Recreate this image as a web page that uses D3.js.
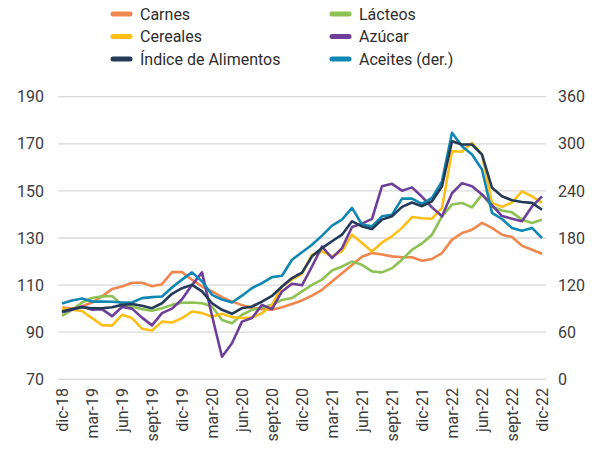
<!DOCTYPE html>
<meta charset="utf-8">
<style>
  body { margin: 0; background: #fff; }
  text { font-family: Roboto, "DejaVu Sans", sans-serif; fill: #3c3c3c; }
  .grid line { stroke: #d9d9d9; stroke-width: 1.3; }
  .axis text { font-size: 16px; }
  .legend text { font-size: 16px; fill: #2e2e2e; }
  .serie { fill: none; stroke-width: 2.6; stroke-linejoin: round; }
</style>
<svg width="594" height="452"></svg>
<script src="https://d3js.org/d3.v7.min.js"></script>
<script>

// categorias (meses)
var months = ['dic-18','ene-19','feb-19','mar-19','abr-19','may-19','jun-19','jul-19','ago-19','sept-19','oct-19','nov-19',
  'dic-19','ene-20','feb-20','mar-20','abr-20','may-20','jun-20','jul-20','ago-20','sept-20','oct-20','nov-20',
  'dic-20','ene-21','feb-21','mar-21','abr-21','may-21','jun-21','jul-21','ago-21','sept-21','oct-21','nov-21',
  'dic-21','ene-22','feb-22','mar-22','abr-22','may-22','jun-22','jul-22','ago-22','sept-22','oct-22','nov-22','dic-22'];

var tickMonths = ['dic-18','mar-19','jun-19','sept-19','dic-19','mar-20','jun-20','sept-20','dic-20',
  'mar-21','jun-21','sept-21','dic-21','mar-22','jun-22','sept-22','dic-22'];

var leftTicks = [70, 90, 110, 130, 150, 170, 190];
var rightTicks = [0, 60, 120, 180, 240, 300, 360];

// series (eje izq.)
var carnes = [100.5,100,101,102.6,105.2,108.3,109.4,111,111,109.5,110.4,115.5,115.5,112.3,109.4,107.3,104.9,103,101.5,100.2,
  99.8,99.5,100.6,102,103.5,105.5,108,111.5,115,118.5,122,123.6,123,122.2,121.8,121.8,120.3,121.1,123.6,129.3,
  132.1,133.5,136.4,134.3,131.4,130.4,126.7,125,123.3];
var lacteos = [96.9,99.5,102.6,104.5,105.2,105.4,101.6,100.9,99.8,99.1,100.2,101.6,102.5,102.6,102.3,100.9,95.2,93.8,97.4,99.5,
  100.5,101.6,103.7,104.5,107.3,110.1,112.3,116.2,117.9,120,118.6,115.8,115.4,117.2,120.8,125,127.7,131.4,139.2,144.2,
  144.9,143,148.4,143.4,141.7,140.9,137.8,136.4,137.8];
var cereales = [100,99.5,99,96,93,92.8,97.4,96,91.5,90.7,94.5,94.1,96,98.8,98.1,96.6,97.8,96.4,96,96.2,
  98.1,101.6,109.4,112.3,114.8,122.9,124.3,122.2,124.3,131.4,127.9,124.3,128.1,130.7,134.3,138.9,138.4,138.2,142.8,166.9,
  166.6,170.4,165.4,144.9,143.2,145.1,149.8,147.7,144.9];
var azucar = [98.5,99.5,100.9,99.5,99.8,96.8,100.7,100,96.2,92.9,98.1,100,104,110,115.4,97,79.6,85.3,94.5,96,
  101.6,99.8,107.3,110.6,109.9,117.9,126.4,121.5,125.7,134.7,136.1,138.1,152,153,150.1,151.5,147.5,143,139.2,149,
  153.3,152,148.5,144,139.3,138.2,137.1,143.4,147.7];
var indice = [98.8,99.8,100.6,100.2,100.2,100.6,101.6,102,101.2,100.2,102.3,106.3,108.7,110.1,107.3,102.3,99.5,97.8,100.2,100.9,
  103,105.4,109.4,113,115.3,122.2,125.7,128.6,131.4,137.1,134.9,133.8,137.8,139.2,143.2,145.1,143.5,145.6,152,171.1,
  169.7,169.7,165.4,151.3,147.7,146,145.3,144.9,142];
// serie (eje der.)
var aceites = [96.5,100.5,103,99,99,98.7,97.8,97.8,103.4,104.7,105.5,117,127,136.2,125,107.6,101.5,97.8,106.5,116.2,
  122.6,130.2,131.9,152.3,161.9,171.4,183,195.7,203.4,218.3,197,194.9,207.6,209.7,230.2,230.2,223.5,231,252.2,314,
  297,286.4,267.2,211.9,204.2,192.8,189.3,192.8,180];

var svg = d3.select('svg');

var x = d3.scalePoint().domain(months).range([62, 542]);
var yL = d3.scaleLinear().domain([70, 190]).range([379.3, 96.7]);
var yR = d3.scaleLinear().domain([0, 360]).range([379.3, 96.7]);

// grid
svg.append('g').attr('class', 'grid')
  .selectAll('line').data(leftTicks).enter().append('line')
    .attr('x1', 58).attr('x2', 546)
    .attr('y1', function(d) { return yL(d); })
    .attr('y2', function(d) { return yL(d); });

// ejes
var axL = svg.append('g').attr('class', 'axis').attr('transform', 'translate(44,0)')
  .call(d3.axisLeft(yL).tickValues(leftTicks).tickSize(0).tickPadding(0));
axL.select('.domain').remove();

var axR = svg.append('g').attr('class', 'axis').attr('transform', 'translate(558,0)')
  .call(d3.axisRight(yR).tickValues(rightTicks).tickSize(0).tickPadding(0));
axR.select('.domain').remove();

var axX = svg.append('g').attr('class', 'axis').attr('transform', 'translate(0,388)')
  .call(d3.axisBottom(x).tickValues(tickMonths).tickSize(0).tickPadding(0));
axX.select('.domain').remove();
axX.selectAll('text')
  .attr('transform', 'rotate(-90)')
  .attr('x', 0).attr('y', 0)
  .attr('dy', '0.35em')
  .style('text-anchor', 'end');

// lineas
var series = [
  { name: 'Carnes', values: carnes, color: '#f0874f', scale: yL },
  { name: 'Lácteos', values: lacteos, color: '#8dc153', scale: yL },
  { name: 'Cereales', values: cereales, color: '#fdbf17', scale: yL },
  { name: 'Azúcar', values: azucar, color: '#6e3f98', scale: yL },
  { name: 'Aceites (der.)', values: aceites, color: '#0f87b3', scale: yR },
  { name: 'Índice de Alimentos', values: indice, color: '#243a59', scale: yL }
];

series.forEach(function(s) {
  var line = d3.line()
    .x(function(d, i) { return x(months[i]); })
    .y(function(d) { return s.scale(d); });
  svg.append('path')
    .attr('class', 'serie')
    .attr('stroke', s.color)
    .attr('d', line(s.values));
});

// leyenda
var legendOrder = ['Carnes', 'Lácteos', 'Cereales', 'Azúcar', 'Índice de Alimentos', 'Aceites (der.)'];
var legend = svg.append('g').attr('class', 'legend');
legendOrder.forEach(function(name, i) {
  var s = series.find(function(d) { return d.name === name; });
  var col = i % 2, row = Math.floor(i / 2);
  var g = legend.append('g')
    .attr('transform', 'translate(' + (col ? 332 : 113) + ',' + (14 + row * 22.5) + ')');
  g.append('line')
    .attr('x1', 0).attr('x2', 17)
    .attr('stroke', s.color).attr('stroke-width', 5).attr('stroke-linecap', 'round');
  g.append('text')
    .attr('x', 27).attr('dy', '0.35em')
    .text(name);
});

</script>
